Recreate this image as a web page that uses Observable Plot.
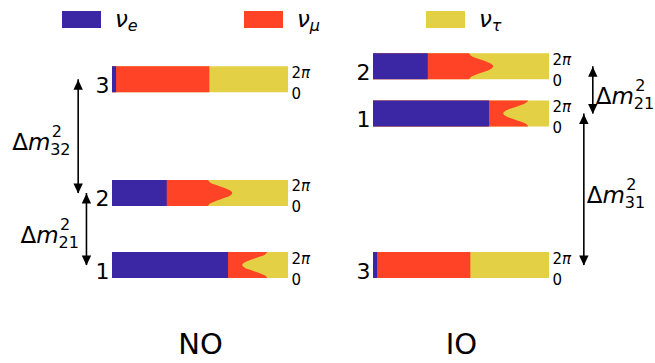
<!DOCTYPE html>
<html>
<head>
<meta charset="utf-8">
<script src="https://cdn.jsdelivr.net/npm/d3@7"></script>
<script src="https://cdn.jsdelivr.net/npm/@observablehq/plot@0.6"></script>
<style>
  body { margin: 0; background: #fff; font-family: "DejaVu Sans", sans-serif; }
  #legend { position: relative; width: 655px; height: 40px; }
  .sw { position: absolute; top: 11px; width: 39px; height: 17px; }
  .lab { position: absolute; top: 8px; font-size: 23px; line-height: 23px; white-space: nowrap; color: #000; }
  .lab .s { font-size: 16px; vertical-align: -4px; }
</style>
</head>
<body>
<div id="legend"></div>
<div id="chart"></div>
<script>
// ---------------- data ----------------
const flavors = ["e", "μ", "τ"];                 // ν_e, ν_μ, ν_τ
const colors = ["#3b27a4", "#fe4326", "#e4d044"];
const orderings = ["NO", "IO"];
const states = [1, 2, 3];
// schematic mass level (bottom of each bar, in bar-height units) for ν1, ν2, ν3
const massNO = [0, 2.77, 7.14];
const massIO = [5.83, 7.64, 0];
// δCP samples (units of π), 0 at bar bottom, 2π at bar top
const deltaCP = [0, 0.1667, 0.3333, 0.5, 0.6667, 0.8333, 1, 1.1667, 1.3333, 1.5, 1.6667, 1.8333, 2];
// |U_ei|^2 (blue share) for ν1, ν2, ν3
const fracE = [0.659, 0.311, 0.023];
// |U_ei|^2 + |U_μi|^2 (blue + red share) versus δCP
const fracEMu1 = [0.882, 0.872, 0.846, 0.811, 0.775, 0.750, 0.740, 0.750, 0.775, 0.811, 0.846, 0.872, 0.882];
const fracEMu2 = [0.546, 0.555, 0.580, 0.615, 0.649, 0.674, 0.683, 0.674, 0.649, 0.615, 0.580, 0.555, 0.546];
const fracEMu3 = [0.553, 0.553, 0.553, 0.553, 0.553, 0.553, 0.553, 0.553, 0.553, 0.553, 0.553, 0.553, 0.553];
const fracEMu = [fracEMu1, fracEMu2, fracEMu3];
// mass splittings drawn as double arrows
const splitOrdering = ["NO", "NO", "IO", "IO"];
const splitFrom = [2, 1, 1, 3];
const splitTo = [3, 2, 2, 1];
const splitLabel = ["32", "21", "21", "31"];

// ---------------- layout ----------------
const OFFSET = {NO: 0, IO: 1.483};              // horizontal origin of each ordering's bars
const arrowX = [-0.195, -0.148, 1.246, 1.195];  // arrow position relative to the ordering's origin
const swatchLeft = [62, 244, 426];

// legend (HTML)
const legend = document.getElementById("legend");
flavors.forEach((f, i) => {
  const sw = document.createElement("div");
  sw.className = "sw";
  sw.style.left = swatchLeft[i] + "px";
  sw.style.background = colors[i];
  legend.appendChild(sw);
  const lab = document.createElement("span");
  lab.className = "lab";
  lab.style.left = (swatchLeft[i] + 53) + "px";
  lab.innerHTML = `<i>ν</i><i class="s">${f}</i>`;
  legend.appendChild(lab);
});

// tables
const massOf = o => (o === "NO" ? massNO : massIO);
const rows = [];
const levelRows = [];
orderings.forEach(o => {
  states.forEach((s, si) => {
    levelRows.push({ordering: o, state: s, off: OFFSET[o], base: massOf(o)[si]});
    deltaCP.forEach((d, di) => {
      rows.push({key: o + s, off: OFFSET[o], y: massOf(o)[si] + d / 2, e: fracE[si], emu: fracEMu[si][di]});
    });
  });
});
const arrowRows = splitOrdering.map((o, i) => {
  const a = massOf(o)[splitFrom[i] - 1] + 0.5;
  const b = massOf(o)[splitTo[i] - 1] + 0.5;
  return {ordering: o, x: OFFSET[o] + arrowX[i], top: Math.max(a, b), bottom: Math.min(a, b), mid: (a + b) / 2, sub: splitLabel[i]};
});

const headUp = {draw(ctx) { ctx.moveTo(0, 0); ctx.lineTo(4.7, 10); ctx.lineTo(-4.7, 10); ctx.closePath(); }};
const headDown = {draw(ctx) { ctx.moveTo(0, 0); ctx.lineTo(4.7, -10); ctx.lineTo(-4.7, -10); ctx.closePath(); }};

function dmLabel(data, dx) {
  const common = {x: "x", y: "mid", textAnchor: "start", lineAnchor: "bottom", fill: "black"};
  return [
    Plot.text(data, {...common, text: () => "Δ", dx, dy: 13.5, fontSize: 23}),
    Plot.text(data, {...common, text: () => "m", dx: dx + 15.7, dy: 13.5, fontSize: 23, fontStyle: "italic"}),
    Plot.text(data, {...common, text: () => "2", dx: dx + 39.5, dy: 0.5, fontSize: 16}),
    Plot.text(data, {...common, text: d => d.sub, dx: dx + 38, dy: 18.3, fontSize: 16})
  ];
}

const curve = "catmull-rom";
const chart = Plot.plot({
  width: 655,
  height: 323,
  marginTop: 4,
  marginBottom: 85,
  marginLeft: 0,
  marginRight: 0,
  x: {domain: [0, 1], range: [112, 288], axis: null},
  y: {domain: [0, 9], axis: null},
  style: {fontFamily: "DejaVu Sans", background: "white", color: "black"},
  marks: [
    // bars: yellow full, red up to e+μ, blue up to e
    Plot.areaX(rows, {y: "y", x1: d => d.off, x2: d => d.off + 1, z: "key", fill: colors[2], curve}),
    Plot.areaX(rows, {y: "y", x1: d => d.off, x2: d => d.off + d.emu, z: "key", fill: colors[1], curve}),
    Plot.areaX(rows, {y: "y", x1: d => d.off, x2: d => d.off + d.e, z: "key", fill: colors[0], curve}),
    // level numbers
    Plot.text(levelRows, {x: "off", y: "base", text: d => String(d.state), textAnchor: "end", lineAnchor: "bottom", dx: -3, fontSize: 22, fill: "black"}),
    // δCP range labels
    Plot.text(levelRows, {x: d => d.off + 1, y: d => d.base + 1, text: () => "2", textAnchor: "start", lineAnchor: "bottom", dx: 3, dy: 11, fontSize: 15, fill: "black"}),
    Plot.text(levelRows, {x: d => d.off + 1, y: d => d.base + 1, text: () => "π", textAnchor: "start", lineAnchor: "bottom", dx: 12.5, dy: 11, fontSize: 15, fontStyle: "italic", fill: "black"}),
    Plot.text(levelRows, {x: d => d.off + 1, y: "base", text: () => "0", textAnchor: "start", lineAnchor: "bottom", dx: 3, dy: 6, fontSize: 15, fill: "black"}),
    // splitting arrows
    Plot.ruleX(arrowRows, {x: "x", y1: "bottom", y2: "top", stroke: "black", strokeWidth: 1.6}),
    Plot.dot(arrowRows, {x: "x", y: "top", symbol: headUp, fill: "black", r: 5}),
    Plot.dot(arrowRows, {x: "x", y: "bottom", symbol: headDown, fill: "black", r: 5}),
    ...dmLabel(arrowRows.filter(d => d.ordering === "NO"), -66),
    ...dmLabel(arrowRows.filter(d => d.ordering === "IO"), 3),
    // ordering captions
    Plot.text(orderings, {x: o => OFFSET[o] + 0.5, frameAnchor: "bottom", text: d => d, lineAnchor: "bottom", dy: 75, fontSize: 29, fill: "black"})
  ]
});
document.getElementById("chart").appendChild(chart);
</script>
</body>
</html>
